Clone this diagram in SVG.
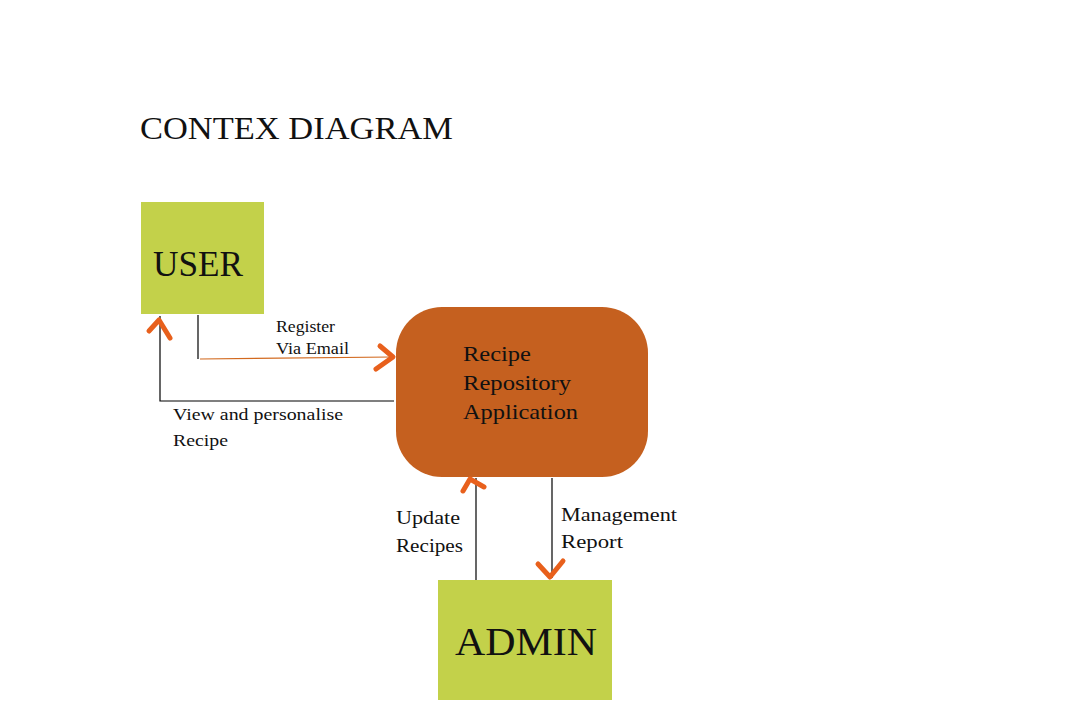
<svg xmlns="http://www.w3.org/2000/svg" width="1080" height="720" viewBox="0 0 1080 720">
<style>
text{font-family:"Liberation Serif","Times New Roman",serif;fill:#111}
.ln{stroke:#000;stroke-width:1.2;fill:none}
.ah{stroke:#e8601c;stroke-width:5;fill:none;stroke-linecap:round;stroke-linejoin:round}
.ent{fill:#c3d14a}
.lbl{font-size:17px}
</style>
<rect width="1080" height="720" fill="#fff"/>
<text x="140" y="139" font-size="31" textLength="313" lengthAdjust="spacingAndGlyphs">CONTEX DIAGRAM</text>
<g id="user"><rect class="ent" x="141" y="202" width="123" height="112"/><text x="153" y="276" font-size="35" textLength="90" lengthAdjust="spacingAndGlyphs">USER</text></g>
<g id="app"><rect x="396" y="307" width="252" height="170" rx="46" fill="#c5601f"/>
<text x="463" y="361" font-size="22" textLength="68" lengthAdjust="spacingAndGlyphs">Recipe</text><text x="463" y="390" font-size="22" textLength="108" lengthAdjust="spacingAndGlyphs">Repository</text><text x="463" y="419" font-size="22" textLength="115" lengthAdjust="spacingAndGlyphs">Application</text></g>
<g id="admin"><rect class="ent" x="438" y="580" width="174" height="120"/><text x="455" y="655" font-size="41" textLength="142" lengthAdjust="spacingAndGlyphs">ADMIN</text></g>
<g id="connectors">
<polyline class="ln" points="198,315 198,359"/>
<line x1="200" y1="359" x2="392" y2="357" stroke="#d2691e" stroke-width="1.2"/>
<polyline class="ah" points="380,346 393,357 376,369"/>
<polyline class="ln" points="394,401 160,401 160,316"/>
<polyline class="ah" points="149,331 159,320 170,338"/>
<line class="ln" x1="476" y1="580" x2="476" y2="478"/>
<polyline class="ah" points="463,491 470,479 484,487"/>
<line class="ln" x1="552" y1="478" x2="552" y2="578"/>
<polyline class="ah" points="538,564 550,577 563,561"/>
</g>
<g id="labels">
<text x="276" y="332" font-size="16" textLength="59" lengthAdjust="spacingAndGlyphs">Register</text><text x="276" y="354" font-size="16" textLength="73" lengthAdjust="spacingAndGlyphs">Via Email</text>
<text class="lbl" x="173" y="420" textLength="170" lengthAdjust="spacingAndGlyphs">View and personalise</text><text class="lbl" x="173" y="446" textLength="55" lengthAdjust="spacingAndGlyphs">Recipe</text>
<text x="396" y="524" font-size="19" textLength="64" lengthAdjust="spacingAndGlyphs">Update</text><text x="396" y="552" font-size="19" textLength="67" lengthAdjust="spacingAndGlyphs">Recipes</text>
<text x="561" y="521" font-size="19" textLength="116" lengthAdjust="spacingAndGlyphs">Management</text><text x="561" y="548" font-size="19" textLength="62" lengthAdjust="spacingAndGlyphs">Report</text>
</g>
</svg>
